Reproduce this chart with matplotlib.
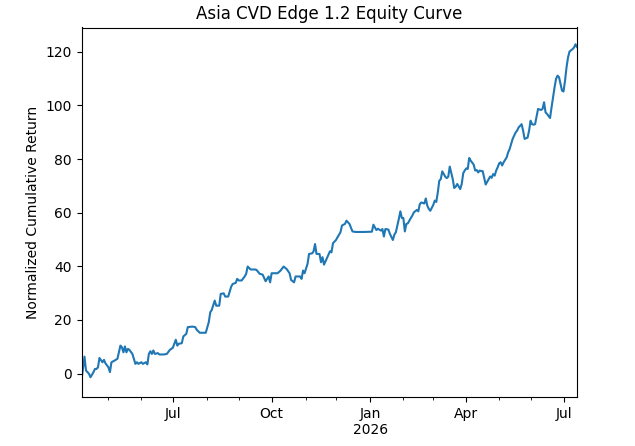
import numpy as np
import matplotlib
matplotlib.use("Agg")
import matplotlib.pyplot as plt

title = "Asia CVD Edge 1.2 Equity Curve"
ylabel = "Normalized Cumulative Return"
start_date = "2025-04-07"

# trading-day number (business days since start_date) and normalized cumulative return
trading_day = [
    0, 2, 3, 5, 6, 8, 9, 10, 11, 12, 14, 15, 16, 18, 19, 20, 22, 24, 25, 26,
    27, 28, 29, 30, 31, 32, 34, 35, 36, 37, 38, 40, 41, 43, 44, 45, 46, 47, 48, 49,
    51, 52, 53, 55, 57, 59, 60, 61, 63, 64, 65, 67, 68, 70, 71, 74, 76, 77, 79, 81,
    83, 85, 86, 87, 89, 90, 92, 93, 95, 96, 98, 100, 101, 103, 104, 105, 107, 109, 110, 111,
    113, 116, 117, 119, 121, 123, 125, 126, 127, 129, 131, 133, 135, 137, 139, 140, 142, 143, 146, 147,
    148, 149, 151, 152, 154, 155, 156, 157, 159, 160, 161, 162, 164, 166, 167, 168, 170, 171, 173, 174,
    175, 176, 177, 178, 179, 181, 183, 186, 189, 194, 195, 196, 197, 198, 200, 201, 202, 203, 205, 206,
    208, 209, 210, 211, 212, 213, 214, 215, 216, 217, 218, 220, 221, 222, 224, 225, 226, 227, 229, 230,
    231, 232, 233, 235, 236, 237, 238, 239, 240, 241, 243, 244, 245, 246, 248, 249, 250, 251, 253, 254,
    255, 256, 257, 258, 259, 260, 262, 263, 264, 265, 266, 267, 268, 269, 270, 272, 273, 274, 275, 276,
    277, 278, 279, 280, 281, 282, 284, 285, 286, 287, 288, 289, 290, 291, 292, 293, 294, 295, 296, 298,
    299, 300, 301, 302, 303, 304, 305, 307, 308, 309, 310, 311, 313, 314, 315, 316, 317, 318, 319, 320,
    321, 322, 323, 324, 325, 326, 328, 329, 330, 331,
]
cum_return = [
    -2.5, 6.3, 1.1, -0.1, -1.4, 0.5, 1.7, 1.7, 2.3, 5.8, 4.2, 5.1, 3.8, 2.3, 0.5, 4.2, 4.8, 5.5, 7.9, 10.4,
    9.8, 7.9, 10.1, 7.9, 9.2, 8.8, 7.3, 5.5, 3.6, 4.2, 3.6, 4.2, 3.6, 4.2, 3.4, 7.3, 8.3, 7.3, 8.6, 7.3,
    7.6, 7.1, 7.1, 7.1, 7.3, 8.8, 9.2, 9.6, 12.6, 10.4, 11.1, 11.3, 13.8, 14.8, 17.3, 17.5, 17.3, 16.3, 15.2, 15.2,
    15.2, 19.1, 22.8, 23.7, 27.2, 25.3, 25.3, 29.7, 29.9, 28.7, 28.7, 32.4, 33.4, 33.8, 35.3, 34.7, 34.7, 36.2, 37.2, 39.9,
    38.8, 38.8, 38.6, 37.2, 36.9, 34.4, 36.2, 34.0, 37.4, 37.4, 37.4, 38.4, 39.9, 39.0, 37.4, 34.9, 34.0, 36.2, 36.2, 35.3,
    38.4, 37.4, 40.9, 44.6, 44.8, 45.5, 48.3, 44.6, 44.6, 41.5, 43.4, 40.6, 43.1, 45.6, 45.2, 48.6, 49.8, 50.8, 52.7, 55.2,
    55.5, 55.8, 57.0, 56.4, 55.8, 53.0, 52.8, 52.8, 52.8, 52.9, 55.5, 54.5, 53.5, 54.0, 53.3, 53.9, 51.1, 53.9, 53.7, 52.1,
    49.8, 51.8, 52.7, 55.2, 57.7, 60.5, 58.0, 58.0, 53.0, 55.8, 56.0, 58.0, 58.9, 60.1, 61.0, 60.5, 63.2, 63.8, 63.4, 65.3,
    62.6, 61.4, 60.7, 62.9, 64.5, 64.0, 67.5, 71.9, 72.5, 75.4, 73.4, 72.9, 73.4, 77.2, 72.5, 69.2, 69.7, 70.7, 68.8, 70.7,
    74.7, 75.7, 76.5, 76.3, 80.4, 79.4, 77.9, 75.7, 75.9, 75.0, 75.7, 75.5, 75.5, 73.0, 70.5, 72.5, 73.5, 73.0, 74.4, 73.8,
    75.7, 76.9, 78.4, 78.8, 77.6, 78.8, 80.6, 82.5, 83.7, 85.6, 87.5, 88.7, 89.9, 90.6, 91.8, 92.4, 93.0, 90.6, 87.5, 88.0,
    90.6, 94.3, 93.0, 92.8, 93.0, 95.8, 98.7, 98.3, 98.7, 101.2, 97.4, 96.8, 95.3, 99.3, 103.0, 106.7, 109.9, 111.1, 110.5, 108.0,
    105.5, 105.2, 109.2, 114.2, 117.9, 120.1, 121.0, 121.6, 122.8, 121.8,
]

dates = np.busday_offset(start_date, trading_day, roll="forward")
x = np.busday_count(start_date, dates)  # business-day axis (as pandas does)

fig = plt.figure(figsize=(6.35, 4.46), dpi=100)
W, H = 635, 446
ax = fig.add_axes([81.5 / W, (H - 397) / H, (577 - 81.5) / W, (397 - 27.5) / H])
ax.plot(x, cum_return, color="#1f77b4", linewidth=1.5)
ax.set_xlim(x[0], x[-1])

# month ticks on the business-day axis
months = np.arange("2025-04", "2026-08", dtype="datetime64[M]")
first_bday = np.busday_offset(months.astype("datetime64[D]"), 0, roll="forward")
pos = np.busday_count(start_date, first_bday)
keep = (pos >= x[0]) & (pos <= x[-1])
months, pos = months[keep], pos[keep]
month_num = months.astype(int) % 12 + 1
major = (month_num % 3) == 1
names = ["Jan", "Feb", "Mar", "Apr", "May", "Jun", "Jul", "Aug", "Sep", "Oct", "Nov", "Dec"]
labels = []
for m, mn in zip(months[major], month_num[major]):
    yr = m.astype("datetime64[Y]").astype(int) + 1970
    labels.append(f"{names[mn-1]}\n{yr}" if mn == 1 else names[mn - 1])
ax.set_xticks(pos[major])
ax.set_xticklabels(labels)
ax.set_xticks(pos[~major], minor=True)

ax.set_title(title)
ax.set_ylabel(ylabel)

fig.savefig("out.png", dpi=100)
